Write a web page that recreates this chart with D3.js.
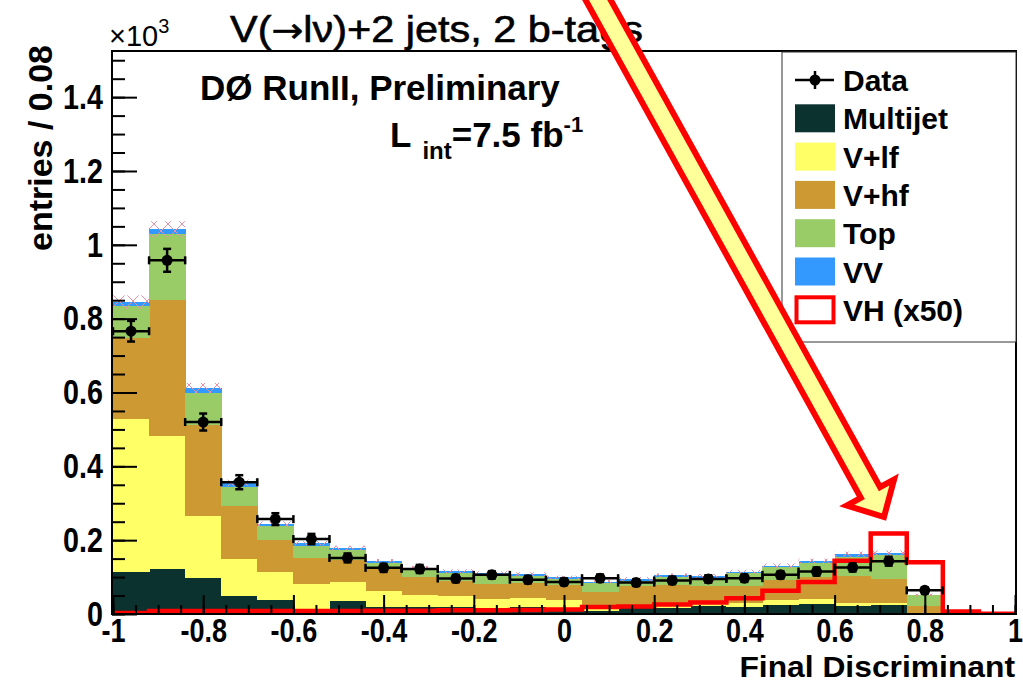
<!DOCTYPE html>
<html>
<head>
<meta charset="utf-8">
<script src="https://cdn.jsdelivr.net/npm/d3@7"></script>
<style>
  html, body { margin: 0; padding: 0; background: #fff; }
  svg text { font-family: "Liberation Sans", Arial, Helvetica, sans-serif; }
</style>
</head>
<body>
<svg id="chart" width="1023" height="685"></svg>
<script>
// Histogram binning: 25 bins of width 0.08 on [-1, 1]
const binLow = -1;
const binWidth = 0.08;
const nBins = 25;

// Background expectations per bin (units of 10^3 entries)
const multijet = [0.115, 0.122, 0.097, 0.049, 0.038, 0.006, 0.036, 0.020, 0.018, 0.018, 0.010, 0.018, 0.012,
                  0.008, 0.016, 0.016, 0.022, 0.019, 0.024, 0.027, 0.022, 0.024, 0.000, 0.000, 0.000];
const vlf      = [0.413, 0.360, 0.168, 0.100, 0.076, 0.075, 0.051, 0.042, 0.034, 0.032, 0.031, 0.025, 0.026,
                  0.012, 0.009, 0.009, 0.011, 0.011, 0.014, 0.014, 0.008, 0.006, 0.000, 0.000, 0.000];
const vhf      = [0.219, 0.368, 0.247, 0.143, 0.086, 0.071, 0.059, 0.066, 0.048, 0.040, 0.040, 0.041, 0.041,
                  0.040, 0.051, 0.054, 0.043, 0.046, 0.054, 0.059, 0.073, 0.065, 0.022, 0.000, 0.000];
const topq     = [0.087, 0.179, 0.086, 0.052, 0.038, 0.032, 0.027, 0.010, 0.019, 0.021, 0.025, 0.019, 0.016,
                  0.023, 0.014, 0.021, 0.022, 0.035, 0.034, 0.039, 0.052, 0.065, 0.029, 0.000, 0.000];
const vv       = [0.011, 0.013, 0.014, 0.011, 0.006, 0.008, 0.006, 0.006, 0.006, 0.005, 0.005, 0.005, 0.004,
                  0.005, 0.005, 0.005, 0.005, 0.004, 0.005, 0.005, 0.007, 0.005, 0.001, 0.000, 0.000];
// Background uncertainty (hatched band half-width)
const bkgUnc   = [0.018, 0.022, 0.014, 0.009, 0.007, 0.006, 0.006, 0.005, 0.005, 0.005, 0.005, 0.005, 0.005,
                  0.005, 0.005, 0.005, 0.005, 0.005, 0.006, 0.006, 0.007, 0.007, 0.003, 0.000, 0.000];
// Signal VH scaled by 50
const vhx50    = [0.003, 0.008, 0.008, 0.008, 0.008, 0.008, 0.008, 0.009, 0.009, 0.010, 0.010, 0.011, 0.012,
                  0.019, 0.020, 0.026, 0.031, 0.043, 0.063, 0.087, 0.144, 0.218, 0.140, 0.007, 0.001];
// Observed data and statistical errors (null = empty bin)
const dataVals = [0.766, 0.958, 0.520, 0.357, 0.257, 0.203, 0.152, 0.125, 0.122, 0.096, 0.106, 0.093, 0.087,
                  0.097, 0.085, 0.091, 0.095, 0.097, 0.106, 0.115, 0.126, 0.143, 0.064, null, null];
const dataErr  = [0.028, 0.031, 0.023, 0.019, 0.016, 0.014, 0.012, 0.011, 0.011, 0.010, 0.010, 0.010, 0.009,
                  0.010, 0.009, 0.010, 0.010, 0.010, 0.010, 0.011, 0.011, 0.012, 0.008, null, null];

const xTickLabels = ["-1", "-0.8", "-0.6", "-0.4", "-0.2", "0", "0.2", "0.4", "0.6", "0.8", "1"];
const yTickLabels = ["0", "0.2", "0.4", "0.6", "0.8", "1", "1.2", "1.4"];

const stackKeys   = ["Multijet", "V+lf", "V+hf", "Top", "VV"];
const stackColors = ["#0b322e", "#ffff66", "#cc9933", "#99cc66", "#3399ff"];
const legendLabels = ["Data", "Multijet", "V+lf", "V+hf", "Top", "VV", "VH (x50)"];

// ---------------------------------------------------------------------------
const svg = d3.select("#chart");
const frame = { left: 112, right: 1016, top: 51, bottom: 614 };

const x = d3.scaleLinear().domain([-1, 1]).range([113, 1015]);
const y = d3.scaleLinear().domain([0, 1.525]).range([frame.bottom, frame.top]);

const edges = d3.range(nBins + 1).map(i => binLow + i * binWidth);

const defs = svg.append("defs");
const hatch = defs.append("pattern")
  .attr("id", "xhatch").attr("patternUnits", "userSpaceOnUse")
  .attr("width", 14).attr("height", 14);
hatch.append("path").attr("d", "M0,0L14,14M0,14L14,0")
  .attr("stroke", "#e890a8").attr("stroke-width", 1).attr("fill", "none");

const clip = defs.append("clipPath").attr("id", "plotclip");
clip.append("rect").attr("x", frame.left).attr("y", frame.top)
  .attr("width", frame.right - frame.left).attr("height", frame.bottom - frame.top);

// Stacked backgrounds
const rows = d3.range(nBins).map(i => ({
  i, "Multijet": multijet[i], "V+lf": vlf[i], "V+hf": vhf[i], "Top": topq[i], "VV": vv[i]
}));
const stacked = d3.stack().keys(stackKeys)(rows);

const gStack = svg.append("g").attr("clip-path", "url(#plotclip)").attr("shape-rendering", "crispEdges");
stacked.forEach((layer, k) => {
  gStack.append("g").attr("fill", stackColors[k])
    .selectAll("rect").data(layer).join("rect")
    .attr("x", d => x(edges[d.data.i]))
    .attr("width", d => x(edges[d.data.i + 1]) - x(edges[d.data.i]) + 0.5)
    .attr("y", d => y(d[1]))
    .attr("height", d => Math.max(0, y(d[0]) - y(d[1])));
});

// Hatched uncertainty band around the total
const totals = stacked[stacked.length - 1].map(d => d[1]);
svg.append("g").selectAll("rect").data(d3.range(nBins).filter(i => bkgUnc[i] > 0)).join("rect")
  .attr("x", i => x(edges[i]))
  .attr("width", i => x(edges[i + 1]) - x(edges[i]))
  .attr("y", i => y(totals[i] + bkgUnc[i]))
  .attr("height", i => y(totals[i] - bkgUnc[i]) - y(totals[i] + bkgUnc[i]))
  .attr("fill", "url(#xhatch)");

// VH x50 outline
const vhPts = d3.range(nBins).map(i => [edges[i], vhx50[i]]);
vhPts.push([edges[nBins], vhx50[nBins - 1]]);
svg.append("path")
  .attr("d", d3.line().x(d => x(d[0])).y(d => y(d[1])).curve(d3.curveStepAfter)(vhPts))
  .attr("fill", "none").attr("stroke", "#ff0000").attr("stroke-width", 4.5)
  .attr("clip-path", "url(#plotclip)");

// Axes: ticks point into the frame
const xAxis = d3.axisBottom(x)
  .tickValues(xTickLabels.map(Number))
  .tickFormat((d, i) => xTickLabels[i])
  .tickSizeInner(-19).tickSizeOuter(0).tickPadding(5);
const xMinor = d3.axisBottom(x)
  .tickValues(d3.range(-20, 21).map(k => k * 0.05))
  .tickFormat("").tickSizeInner(-9).tickSizeOuter(0);
const yAxis = d3.axisLeft(y)
  .tickValues(yTickLabels.map(Number))
  .tickFormat((d, i) => yTickLabels[i])
  .tickSizeInner(-25).tickSizeOuter(0).tickPadding(11);
const yMinor = d3.axisLeft(y)
  .tickValues(d3.range(0, 31).map(k => k * 0.05))
  .tickFormat("").tickSizeInner(-13).tickSizeOuter(0);

function styleAxis(g) {
  g.select(".domain").remove();
  g.selectAll("line").attr("stroke", "#000").attr("stroke-width", 2);
}
svg.append("g").attr("transform", `translate(0,${frame.bottom})`).call(xMinor).call(styleAxis);
svg.append("g").attr("transform", `translate(${frame.left},0)`).call(yMinor).call(styleAxis);
const gx = svg.append("g").attr("transform", `translate(0,${frame.bottom})`).call(xAxis).call(styleAxis);
gx.selectAll("text").attr("font-size", 33).attr("font-weight", "bold").attr("fill", "#000")
  .attr("font-family", "Liberation Sans, Arial, sans-serif")
  .attr("transform", "scale(0.82,1)");
const gy = svg.append("g").attr("transform", `translate(${frame.left},0)`).call(yAxis).call(styleAxis);
gy.selectAll("text").attr("font-size", 35).attr("font-weight", "bold").attr("fill", "#000")
  .attr("font-family", "Liberation Sans, Arial, sans-serif")
  .attr("transform", "scale(0.82,1)");

// Data points with error bars
const dataIdx = d3.range(nBins).filter(i => dataVals[i] !== null);
const gData = svg.append("g").attr("stroke", "#000").attr("stroke-width", 2.5);
dataIdx.forEach(i => {
  const cx = x(edges[i] + binWidth / 2);
  const x0 = x(edges[i]), x1 = x(edges[i + 1]);
  const yv = y(dataVals[i]), yt = y(dataVals[i] + dataErr[i]), yb = y(dataVals[i] - dataErr[i]);
  gData.append("line").attr("x1", x0).attr("x2", x1).attr("y1", yv).attr("y2", yv);
  gData.append("line").attr("x1", x0).attr("x2", x0).attr("y1", yv - 4).attr("y2", yv + 4);
  gData.append("line").attr("x1", x1).attr("x2", x1).attr("y1", yv - 4).attr("y2", yv + 4);
  gData.append("line").attr("x1", cx).attr("x2", cx).attr("y1", yt).attr("y2", yb);
  gData.append("line").attr("x1", cx - 4).attr("x2", cx + 4).attr("y1", yt).attr("y2", yt);
  gData.append("line").attr("x1", cx - 4).attr("x2", cx + 4).attr("y1", yb).attr("y2", yb);
  gData.append("circle").attr("cx", cx).attr("cy", yv).attr("r", 5.5).attr("fill", "#000").attr("stroke", "none");
});

// Frame
svg.append("rect").attr("x", frame.left).attr("y", frame.top)
  .attr("width", frame.right - frame.left).attr("height", frame.bottom - frame.top)
  .attr("fill", "none").attr("stroke", "#000").attr("stroke-width", 2);

// Axis titles
svg.append("text").attr("transform", "translate(1015,677) scale(1.06,1)").attr("text-anchor", "end")
  .attr("font-size", 30).attr("font-weight", "bold").text("Final Discriminant");
svg.append("text").attr("transform", "translate(52,45) rotate(-90)").attr("text-anchor", "end")
  .attr("font-size", 34).attr("font-weight", "bold").text("entries / 0.08");

// Exponent marker
const ex = svg.append("text").attr("x", 109).attr("y", 46).attr("font-size", 29);
ex.append("tspan").text("\u00d710");
ex.append("tspan").attr("dy", -13).attr("font-size", 20).text("3");

// Title and labels
const title = svg.append("text").attr("transform", "translate(230,42) scale(1.12,1)")
  .attr("font-size", 37).attr("stroke", "#000").attr("stroke-width", 0.6);
title.append("tspan").text("V(");
title.append("tspan").attr("font-family", "DejaVu Sans").attr("font-size", 34).text("\u2192");
title.append("tspan").text("l\u03bd)+2 jets, 2 b-tags");
svg.append("text").attr("x", 200).attr("y", 100).attr("font-size", 35).attr("font-weight", "bold")
  .text("D\u00d8 RunII, Preliminary");
const lum = svg.append("text").attr("x", 390).attr("y", 147).attr("font-size", 35).attr("font-weight", "bold");
lum.append("tspan").text("L");
lum.append("tspan").attr("dx", 11).attr("dy", 12).attr("font-size", 24).text("int");
lum.append("tspan").attr("dy", -12).text("=7.5 fb");
lum.append("tspan").attr("dy", -15).attr("font-size", 22).text("-1");

// Legend
const leg = svg.append("g");
leg.append("rect").attr("x", 782).attr("y", 52).attr("width", 234).attr("height", 290)
  .attr("fill", "#fff").attr("stroke", "#333").attr("stroke-width", 1);
const rowY = d3.range(legendLabels.length).map(k => 80 + k * 38.3);
legendLabels.forEach((lab, k) => {
  const cy = rowY[k];
  if (k === 0) {
    leg.append("line").attr("x1", 795).attr("x2", 834).attr("y1", cy).attr("y2", cy)
      .attr("stroke", "#000").attr("stroke-width", 2.5);
    leg.append("line").attr("x1", 815).attr("x2", 815).attr("y1", cy - 9).attr("y2", cy + 9)
      .attr("stroke", "#000").attr("stroke-width", 2.5);
    leg.append("circle").attr("cx", 815).attr("cy", cy).attr("r", 5.5).attr("fill", "#000");
  } else if (k <= stackKeys.length) {
    leg.append("rect").attr("x", 795).attr("y", cy - 14).attr("width", 40).attr("height", 28)
      .attr("fill", stackColors[k - 1]);
  } else {
    leg.append("rect").attr("x", 796.5).attr("y", cy - 12.5).attr("width", 37).attr("height", 25)
      .attr("fill", "#fff").attr("stroke", "#ff0000").attr("stroke-width", 4);
  }
  leg.append("text").attr("x", 843).attr("y", cy + 11).attr("font-size", 30).attr("font-weight", "bold")
    .text(lab);
});

// Pointer arrow towards the signal region
const tail = [576, -40], tip = [884, 517];
const len = Math.hypot(tip[0] - tail[0], tip[1] - tail[1]);
const ux = (tip[0] - tail[0]) / len, uy = (tip[1] - tail[1]) / len;
const px = -uy, py = ux;
const shaftHalf = 11, headHalf = 27, headLen = 28;
const hb = [tip[0] - ux * headLen, tip[1] - uy * headLen];
const arrowPts = [
  [tail[0] + px * shaftHalf, tail[1] + py * shaftHalf],
  [hb[0] + px * shaftHalf, hb[1] + py * shaftHalf],
  [hb[0] + px * headHalf, hb[1] + py * headHalf],
  tip,
  [hb[0] - px * headHalf, hb[1] - py * headHalf],
  [hb[0] - px * shaftHalf, hb[1] - py * shaftHalf],
  [tail[0] - px * shaftHalf, tail[1] - py * shaftHalf]
];
svg.append("path").attr("d", "M" + arrowPts.map(p => p.join(",")).join("L") + "Z")
  .attr("fill", "#ffff99").attr("stroke", "#ff0000").attr("stroke-width", 6)
  .attr("stroke-linejoin", "miter");
</script>
</body>
</html>
